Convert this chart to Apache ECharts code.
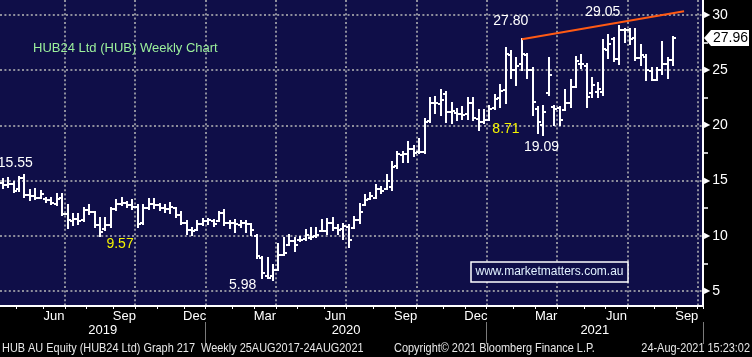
<!DOCTYPE html>
<html>
<head>
<meta charset="utf-8">
<script src="https://cdn.jsdelivr.net/npm/echarts@6/dist/echarts.min.js"></script>
<style>
html,body{margin:0;padding:0;background:#000;}
#chart{width:752px;height:357px;}
</style>
</head>
<body>
<div id="chart"></div>
<script>
// ---------------- DATA ----------------
// weekly bars (week ending Friday), first category 2019-04-12
const firstWeek = '2019-04-12';
const weekCount = 130; // categories shown on the axis (last 5 are empty future weeks)

const open = [
  14.8, 14.6, 14.7, 14.2, 15.2, 13.7, 13.6, 13.4, 13.3, 13.2,
  12.9, 13.4, 12.0, 11.3, 11.5, 11.4, 12.3, 12.2, 11.0, 10.6,
  11.0, 12.4, 12.9, 13.0, 12.8, 12.6, 11.2, 12.5, 12.9, 12.8,
  12.5, 12.4, 12.5, 11.9, 11.2, 10.5, 10.5, 11.1, 11.3, 11.3,
  11.3, 12.1, 11.2, 11.2, 11.0, 11.2, 11.1, 10.0, 8.0, 6.4,
  6.4, 6.9, 8.3, 9.2, 9.5, 9.6, 9.7, 9.8, 10.0, 10.4,
  10.4, 11.2, 10.7, 10.6, 10.8, 10.7, 11.4, 12.8, 13.3, 13.4,
  14.2, 14.2, 14.4, 16.3, 17.3, 17.4, 17.9, 17.6, 17.6, 20.4,
  22.0, 21.9, 22.8, 21.2, 21.1, 21.0, 21.0, 22.0, 20.6, 20.3,
  20.5, 21.6, 22.5, 23.2, 26.4, 25.0, 25.6, 26.4, 25.0, 21.5,
  20.0, 22.9, 21.7, 21.6, 21.4, 22.0, 23.5, 25.6, 25.4, 22.9,
  23.0, 23.0, 26.8, 27.8, 26.0, 28.6, 28.6, 27.9, 26.1, 26.2,
  24.9, 24.1, 25.0, 25.6, 25.9
];
const high = [
  15.1, 15.2, 14.9, 15.3, 15.55, 14.15, 14.2, 14.1, 13.4, 13.45,
  13.75, 13.75, 12.8, 12.0, 12.0, 12.5, 12.8, 12.2, 11.6, 11.6,
  12.5, 13.2, 13.4, 13.1, 13.25, 12.8, 12.8, 13.3, 13.3, 12.9,
  12.8, 12.95, 12.5, 12.2, 11.3, 10.7, 11.3, 11.5, 11.5, 11.4,
  12.2, 12.3, 11.3, 11.4, 11.3, 11.3, 11.1, 10.1, 8.05, 8.0,
  7.35, 9.3, 9.8, 10.1, 9.8, 9.9, 10.5, 10.7, 10.7, 11.4,
  11.5, 11.6, 11.0, 11.1, 11.0, 11.7, 12.9, 13.7, 13.9, 14.6,
  14.45, 15.5, 16.7, 17.6, 17.6, 18.5, 18.1, 18.8, 20.55, 22.45,
  22.6, 23.2, 23.0, 22.0, 21.45, 21.7, 22.45, 22.45, 21.4, 21.4,
  21.8, 22.75, 23.7, 27.0, 26.7, 26.1, 27.8, 26.5, 25.2, 21.7,
  21.8, 26.1, 21.8, 21.7, 23.2, 24.1, 26.2, 26.4, 25.6, 24.3,
  23.8, 27.7, 28.2, 27.9, 29.05, 28.7, 28.7, 28.7, 27.3, 26.4,
  25.2, 25.2, 27.6, 26.1, 28.0
];
const low = [
  14.3, 14.4, 14.0, 14.1, 13.5, 13.2, 13.3, 13.4, 13.1, 12.85,
  12.8, 11.9, 10.7, 11.0, 11.1, 11.3, 12.0, 10.8, 10.0, 10.5,
  10.8, 12.3, 12.8, 12.6, 12.4, 10.8, 11.1, 12.4, 12.5, 12.3,
  12.2, 12.1, 11.7, 11.1, 10.2, 10.1, 10.5, 11.0, 11.1, 10.9,
  11.3, 11.0, 10.7, 10.3, 10.8, 10.3, 10.1, 8.0, 6.15, 6.15,
  5.98, 6.9, 8.3, 9.2, 8.6, 9.5, 9.6, 9.7, 9.9, 10.4,
  10.2, 10.5, 10.2, 9.7, 9.0, 10.7, 11.2, 12.8, 13.3, 13.4,
  13.85, 14.2, 14.15, 16.1, 16.7, 16.7, 17.2, 17.5, 17.5, 20.3,
  21.1, 20.9, 20.3, 20.2, 20.5, 20.55, 20.6, 20.5, 19.6, 20.2,
  20.5, 21.5, 21.7, 22.0, 24.3, 23.7, 25.0, 24.3, 20.9, 19.3,
  19.09, 22.75, 20.0, 20.0, 21.4, 21.7, 23.5, 25.2, 21.7, 22.6,
  22.6, 22.75, 26.1, 25.8, 25.6, 27.6, 27.4, 25.9, 25.5, 24.1,
  24.1, 24.1, 24.7, 24.3, 25.5
];
const close = [
  14.6, 14.7, 14.1, 15.2, 13.7, 13.6, 13.4, 13.8, 13.2, 13.0,
  13.3, 12.0, 11.4, 11.5, 11.3, 12.3, 12.2, 11.0, 10.3, 11.0,
  12.4, 12.9, 13.0, 12.8, 12.6, 11.1, 12.5, 12.9, 12.8, 12.5,
  12.4, 12.6, 11.9, 11.2, 10.5, 10.4, 11.1, 11.3, 11.4, 11.1,
  12.1, 11.2, 11.2, 11.1, 11.2, 11.1, 10.5, 8.2, 6.6, 6.2,
  6.9, 8.3, 8.4, 9.5, 9.2, 9.6, 10.1, 9.9, 10.1, 10.4,
  11.2, 10.7, 10.5, 10.9, 9.6, 11.4, 12.2, 13.2, 13.6, 14.2,
  14.1, 15.0, 16.2, 17.4, 17.4, 17.9, 17.5, 17.6, 20.3, 22.0,
  22.0, 22.3, 21.2, 21.3, 21.0, 20.9, 22.0, 20.7, 20.3, 20.5,
  21.5, 22.4, 23.1, 26.5, 25.0, 25.4, 26.5, 25.0, 22.1, 20.3,
  21.2, 24.6, 21.5, 20.5, 22.0, 23.5, 25.8, 25.6, 22.6, 23.7,
  23.3, 26.9, 27.4, 26.0, 28.6, 28.6, 27.8, 26.1, 26.4, 25.0,
  24.1, 25.0, 25.6, 25.9, 27.96
];

const yMin = 3.64, yMax = 31.36;
const yTickValues = [5, 10, 15, 20, 25, 30];
const yMinorValues = [7.5, 12.5, 17.5, 22.5, 27.5];
const monthNames = ['Jan','Feb','Mar','Apr','May','Jun','Jul','Aug','Sep','Oct','Nov','Dec'];
const labelledMonths = [2, 5, 8, 11];

const annotationDates  = ['2019-05-10','2019-08-16','2020-03-27','2021-02-12','2020-12-25','2021-03-12','2021-06-18'];
const annotationValues = [15.55, 9.57, 5.98, 27.80, 18.71, 19.09, 29.05];
const annotationTexts  = ['15.55','9.57','5.98','27.80','8.71','19.09','29.05'];

const trendDates  = ['2021-02-12', '2021-09-10'];
const trendValues = [27.80, 30.35];

const titleText = 'HUB24 Ltd (HUB) Weekly Chart';
const watermarkText = 'www.marketmatters.com.au';
const footerLeft = 'HUB AU Equity (HUB24 Ltd) Graph 217  Weekly 25AUG2017-24AUG2021';
const footerMid = 'Copyright\u00A9 2021 Bloomberg Finance L.P.';
const footerRight = '24-Aug-2021 15:23:02';

// ---------------- STYLE ----------------
const NARROW = '"Liberation Sans Narrow","Arial Narrow","Liberation Sans",sans-serif';
const SANS = '"Liberation Sans",Arial,sans-serif';
const PLOT_BG = '#0f0e48';
const GRID_COLOR = '#8e8e9c';
const GRID_LEFT = 0, GRID_RIGHT = 49, GRID_TOP = 0, GRID_BOTTOM = 51;
const BAND = (752 - GRID_LEFT - GRID_RIGHT) / weekCount;
const FOOT_SCALE = 0.84;
const annotationStyle = [
  {dx: -9, dy: -11.5, color: '#ffffff'},
  {dx: 20, dy: 4, color: '#f4f400'},
  {dx: -30.5, dy: 5, color: '#ffffff'},
  {dx: -11, dy: -18, color: '#ffffff'},
  {dx: 22, dy: -10.6, color: '#f4f400'},
  {dx: -2, dy: 12, color: '#ffffff'},
  {dx: -16.5, dy: -13, color: '#ffffff'}
];

// ---------------- BUILD ----------------
const categories = [];
const [fy, fm, fd] = firstWeek.split('-').map(Number);
for (let i = 0; i < weekCount; i++) {
  categories.push(new Date(Date.UTC(fy, fm - 1, fd + 7 * i)).toISOString().slice(0, 10));
}
const monthOf = s => +s.slice(5, 7) - 1;
const monthStart = new Set(), quarterStart = new Set(), yearStart = new Set();
for (let i = 1; i < weekCount; i++) {
  if (monthOf(categories[i]) !== monthOf(categories[i - 1])) {
    monthStart.add(i);
    if (monthOf(categories[i]) % 3 === 0) quarterStart.add(i);
    if (monthOf(categories[i]) === 0) yearStart.add(i);
  }
}
function centerLabels(keyFn, accept, textFn) {
  const groups = {};
  categories.forEach((c, i) => { const k = keyFn(c); (groups[k] = groups[k] || []).push(i); });
  const out = {};
  Object.keys(groups).forEach(k => {
    const idx = groups[k];
    if (!accept(k, idx)) return;
    const n = idx.length;
    if (n % 2 === 1) out[idx[(n - 1) / 2]] = {text: textFn(k), shift: false};
    else out[idx[n / 2 - 1]] = {text: textFn(k), shift: true};
  });
  return out;
}
const monthLabels = centerLabels(c => c.slice(0, 7),
  (k, idx) => labelledMonths.includes(+k.slice(5, 7) - 1) && idx.length >= 4,
  k => monthNames[+k.slice(5, 7) - 1]);
const yearLabels = centerLabels(c => c.slice(0, 4), () => true, k => k);
const fmtLabel = map => (v, i) => {
  const l = map[i];
  if (!l) return '';
  return l.shift ? '{s|' + l.text + '}' : '{n|' + l.text + '}';
};
const labelRich = {
  n: {color: '#fff', fontSize: 13, fontFamily: NARROW},
  s: {color: '#fff', fontSize: 13, fontFamily: NARROW, padding: [0, 0, 0, BAND]}
};

const ohlcData = open.map((o, i) => [categories[i], o, high[i], low[i], close[i]]);
const annData = annotationDates.map((d, i) => [d, annotationValues[i], i]);
const lastPrice = close[close.length - 1];

const chart = echarts.init(document.getElementById('chart'), null, {renderer: 'canvas'});
chart.setOption({
  animation: false,
  backgroundColor: '#000',
  title: {
    text: titleText, left: 33, top: 42, padding: 0,
    textStyle: {color: '#9cf09c', fontSize: 13, fontWeight: 'normal', fontFamily: SANS}
  },
  grid: {
    left: GRID_LEFT, right: GRID_RIGHT, top: GRID_TOP, bottom: GRID_BOTTOM,
    show: true, backgroundColor: PLOT_BG, borderWidth: 0, containLabel: false
  },
  xAxis: [
    {
      type: 'category', data: categories, boundaryGap: true, position: 'bottom',
      axisLine: {show: true, lineStyle: {color: '#fff', width: 2}},
      axisTick: {show: true, interval: i => monthStart.has(i), length: 3, lineStyle: {color: '#fff', width: 1}},
      axisLabel: {show: true, interval: i => !!monthLabels[i], formatter: fmtLabel(monthLabels),
        margin: 4, rich: labelRich, color: '#fff', fontSize: 13, fontFamily: NARROW},
      splitLine: {show: true, interval: i => quarterStart.has(i),
        lineStyle: {color: GRID_COLOR, width: 2, type: [2, 2.4]}}
    },
    {
      type: 'category', data: categories, boundaryGap: true, position: 'bottom',
      axisLine: {show: false}, axisTick: {show: false}, splitLine: {show: false},
      axisLabel: {show: true, interval: i => !!yearLabels[i], formatter: fmtLabel(yearLabels),
        margin: 18, rich: labelRich, color: '#fff', fontSize: 13, fontFamily: NARROW}
    },
    {
      type: 'category', data: categories, boundaryGap: true, position: 'bottom', offset: 16,
      axisLine: {show: false}, axisLabel: {show: false}, splitLine: {show: false},
      axisTick: {show: true, interval: i => yearStart.has(i), length: 22, lineStyle: {color: '#7a7a7a', width: 1}}
    }
  ],
  yAxis: [
    {
      type: 'value', position: 'right', min: yMin, max: yMax,
      axisLine: {show: true, lineStyle: {color: '#fff', width: 2}},
      axisTick: {show: false, customValues: yTickValues},
      axisLabel: {show: true, customValues: yTickValues, margin: 1,
        formatter: v => '{t|\u25B6}{v|' + v + '}',
        rich: {
          t: {color: '#fff', fontSize: 8, fontFamily: '"DejaVu Sans",sans-serif', padding: [0, 2, 0, 0]},
          v: {color: '#fff', fontSize: 14, fontFamily: NARROW}
        }},
      splitLine: {show: true, lineStyle: {color: GRID_COLOR, width: 2, type: [2, 2.4]}}
    },
    {
      type: 'value', position: 'right', min: yMin, max: yMax,
      axisLine: {show: false}, axisLabel: {show: false}, splitLine: {show: false},
      axisTick: {show: true, customValues: yMinorValues, length: 5, lineStyle: {color: '#fff', width: 1.5}}
    }
  ],
  series: [
    {
      type: 'custom', name: 'HUB', xAxisIndex: 0, yAxisIndex: 0, z: 5,
      data: ohlcData,
      encode: {x: 0, y: [1, 2, 3, 4]},
      renderItem: (params, api) => {
        const i = api.value(0);
        const po = api.coord([i, api.value(1)]);
        const ph = api.coord([i, api.value(2)]);
        const pl = api.coord([i, api.value(3)]);
        const pc = api.coord([i, api.value(4)]);
        const x = Math.round(ph[0]);
        const st = {stroke: '#ffffff', lineWidth: 2};
        const tw = 3;
        return {type: 'group', children: [
          {type: 'line', shape: {x1: x, y1: Math.round(ph[1]) - 1, x2: x, y2: Math.round(pl[1]) + 1}, style: st},
          {type: 'line', shape: {x1: x - tw, y1: Math.round(po[1]), x2: x, y2: Math.round(po[1])}, style: st},
          {type: 'line', shape: {x1: x, y1: Math.round(pc[1]), x2: x + tw, y2: Math.round(pc[1])}, style: st}
        ]};
      }
    },
    {
      type: 'line', xAxisIndex: 0, yAxisIndex: 0, z: 6,
      data: trendDates.map((d, i) => [d, trendValues[i]]),
      symbol: 'none', lineStyle: {color: '#ff5a14', width: 2}
    },
    {
      type: 'custom', xAxisIndex: 0, yAxisIndex: 0, z: 7,
      data: annData, encode: {x: 0, y: 1},
      renderItem: (params, api) => {
        const k = api.value(2);
        const p = api.coord([api.value(0), api.value(1)]);
        const s = annotationStyle[k];
        return {type: 'text', x: p[0] + s.dx, y: p[1] + s.dy,
          style: {text: annotationTexts[k], fill: s.color, fontSize: 14, fontFamily: SANS,
            align: 'center', verticalAlign: 'middle'}};
      }
    },
    {
      type: 'custom', xAxisIndex: 0, yAxisIndex: 0, z: 8, clip: false,
      data: [[categories[close.length - 1], lastPrice]], encode: {x: 0, y: 1},
      renderItem: (params, api) => {
        const p = api.coord([api.value(0), api.value(1)]);
        const xr = params.coordSys.x + params.coordSys.width;
        const y = Math.round(p[1]);
        return {type: 'group', children: [
          {type: 'polygon', shape: {points: [[xr + 1, y], [xr + 8, y - 8], [xr + 46, y - 8], [xr + 46, y + 8], [xr + 8, y + 8]]},
            style: {fill: '#ffffff'}},
          {type: 'text', x: xr + 10, y: y,
            style: {text: lastPrice.toFixed(2), fill: '#000', fontSize: 14, fontFamily: NARROW,
              align: 'left', verticalAlign: 'middle'}}
        ]};
      }
    }
  ],
  graphic: [
    {type: 'rect', z: 100, shape: {x: 471, y: 262, width: 157, height: 20},
      style: {fill: PLOT_BG, stroke: '#ffffff', lineWidth: 1.5}},
    {type: 'text', z: 101, x: 549.5, y: 272,
      style: {text: watermarkText, fill: '#e2f2ff', fontSize: 12, fontFamily: SANS, align: 'center', verticalAlign: 'middle'}},
    {type: 'text', z: 101, x: 2, y: 348, scaleX: FOOT_SCALE,
      style: {text: footerLeft, fill: '#e8e8e8', fontSize: 13, fontFamily: NARROW, align: 'left', verticalAlign: 'middle'}},
    {type: 'text', z: 101, x: 394, y: 348, scaleX: FOOT_SCALE,
      style: {text: footerMid, fill: '#e8e8e8', fontSize: 13, fontFamily: NARROW, align: 'left', verticalAlign: 'middle'}},
    {type: 'text', z: 101, x: 750, y: 348, scaleX: FOOT_SCALE,
      style: {text: footerRight, fill: '#e8e8e8', fontSize: 13, fontFamily: NARROW, align: 'right', verticalAlign: 'middle'}}
  ]
});
</script>
</body>
</html>
